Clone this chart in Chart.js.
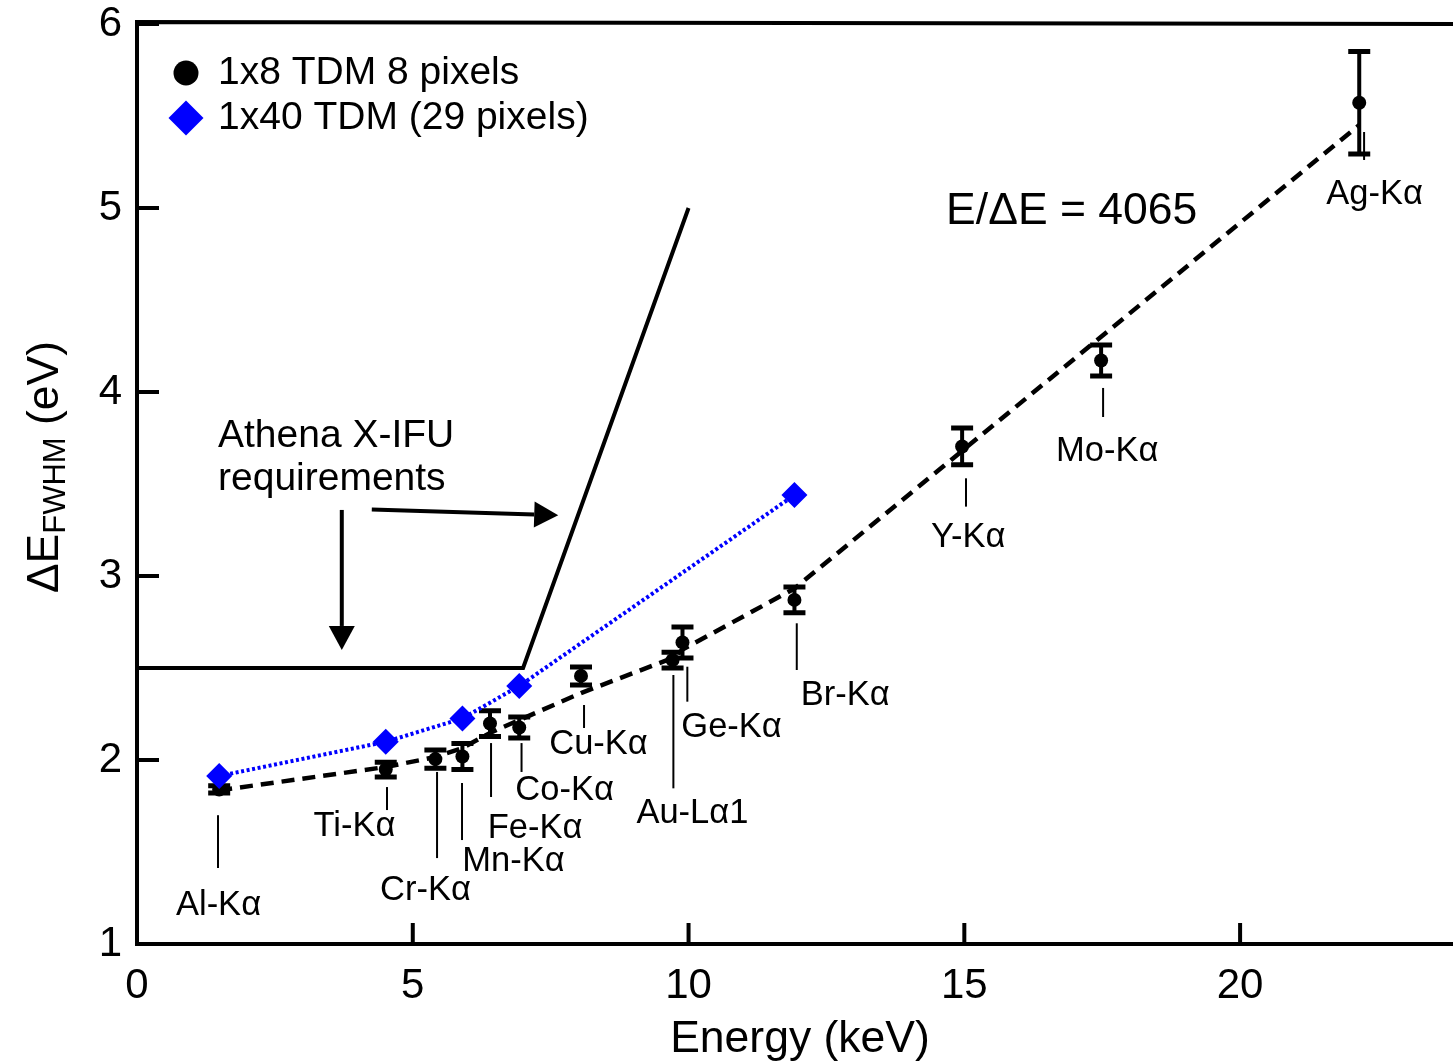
<!DOCTYPE html>
<html><head><meta charset="utf-8">
<script src="https://cdn.jsdelivr.net/npm/chart.js@4.4.0/dist/chart.umd.min.js"></script>
<style>html,body{margin:0;padding:0;background:#fff;overflow:hidden;} #wrap{width:1453px;height:1063px;position:relative;} canvas{display:block;}</style>
</head><body><div id="wrap"><canvas id="c" width="1453" height="1063"></canvas></div>
<script>
// ---- data ----
const energies   = [1.49, 4.51, 5.41, 5.90, 6.40, 6.93, 8.05, 9.71, 9.89, 11.92, 14.96, 17.48, 22.16];
const lineNames  = ['Al-Kα','Ti-Kα','Cr-Kα','Mn-Kα','Fe-Kα','Co-Kα','Cu-Kα','Au-Lα1','Ge-Kα','Br-Kα','Y-Kα','Mo-Kα','Ag-Kα'];
const fwhm1x8    = [1.840, 1.948, 2.005, 2.019, 2.198, 2.177, 2.457, 2.543, 2.639, 2.870, 3.704, 4.171, 5.572];
const err1x8     = [0.020, 0.040, 0.050, 0.070, 0.070, 0.057, 0.049, 0.043, 0.084, 0.070, 0.100, 0.084, 0.279];
const fitModel   = [1.835, 1.962, 2.016, 2.065, 2.147, 2.217, 2.364, 2.554, 2.600, 2.932, 3.680, 4.300, 5.451];
const energies1x40 = [1.49, 4.51, 5.90, 6.93, 11.92];
const fwhm1x40     = [1.913, 2.099, 2.226, 2.402, 3.440];
const reqEnergy  = [0, 7, 10];
const reqFwhm    = [2.5, 2.5, 5];
const xTicks = [0, 5, 10, 15, 20];
const yTicks = [1, 2, 3, 4, 5, 6];
const seriesNames = ['1x8 TDM 8 pixels', '1x40 TDM (29 pixels)'];
// label annotations in data units: [leaderX, leaderTop, leaderBottom, labelX, labelY]
const lineLabels = [
  [1.469, 1.700, 1.413, 1.478, 1.212],
  [4.533, 1.853, 1.728, 3.944, 1.641],
  [5.440, 1.935, 1.467, 5.231, 1.293],
  [5.893, 1.875, 1.565, 6.827, 1.446],
  [6.419, 2.092, 1.799, 7.217, 1.630],
  [6.972, 2.092, 1.935, 7.752, 1.837],
  [8.105, 2.299, 2.174, 8.368, 2.087],
  [9.725, 2.462, 1.846, 10.07, 1.707],
  [9.978, 2.507, 2.317, 10.78, 2.174],
  [11.962, 2.743, 2.489, 12.84, 2.353],
  [15.03, 3.531, 3.377, 15.07, 3.207],
  [17.516, 4.022, 3.864, 17.59, 3.674],
  [22.248, 5.413, 5.261, 22.44, 5.071]
];
// arrows: [x0, y0, x1(tip), y1(tip)]
const arrows = [[3.713, 3.359, 3.713, 2.598], [4.257, 3.362, 7.637, 3.330]];
const reqText = ['Athena X-IFU', 'requirements'];
const reqTextPos = [[1.469, 3.701], [1.469, 3.467]];
const resText = 'E/ΔE = 4065';
const resTextPos = [14.67, 4.913];

const FONT = '"Liberation Sans", Arial, Helvetica, sans-serif';
const xy = (xs, ys) => xs.map((v, i) => ({x: v, y: ys[i]}));

const annot = {
  id: 'annot',
  afterDatasetDraw(chart, args) {
    if (args.index !== 1) return;
    const {ctx, scales: {x, y}} = chart;
    ctx.save();
    ctx.strokeStyle = '#000';
    energies.forEach((e, i) => {
      const px = x.getPixelForValue(e);
      const t = y.getPixelForValue(fwhm1x8[i] + err1x8[i]);
      const b = y.getPixelForValue(fwhm1x8[i] - err1x8[i]);
      ctx.lineWidth = 4;
      ctx.beginPath(); ctx.moveTo(px, t); ctx.lineTo(px, b); ctx.stroke();
      ctx.lineWidth = 5;
      ctx.beginPath();
      ctx.moveTo(px - 11, t); ctx.lineTo(px + 11, t);
      ctx.moveTo(px - 11, b); ctx.lineTo(px + 11, b);
      ctx.stroke();
    });
    ctx.restore();
  },
  afterDraw(chart) {
    const {ctx, chartArea: ca, scales: {x, y}} = chart;
    ctx.save();
    ctx.strokeStyle = '#000'; ctx.fillStyle = '#000';
    // frame lines
    ctx.lineWidth = 4;
    ctx.beginPath(); ctx.moveTo(ca.left, ca.bottom + 2); ctx.lineTo(ca.left, ca.top - 2); ctx.lineTo(ca.right, ca.top);
    ctx.moveTo(ca.left - 2, ca.bottom); ctx.lineTo(ca.right, ca.bottom); ctx.stroke();
    // inward ticks
    xTicks.forEach(v => { const p = x.getPixelForValue(v); ctx.beginPath(); ctx.moveTo(p, ca.bottom); ctx.lineTo(p, ca.bottom - 21); ctx.stroke(); });
    yTicks.forEach(v => { const p = y.getPixelForValue(v); ctx.beginPath(); ctx.moveTo(ca.left, p); ctx.lineTo(ca.left + 22, p); ctx.stroke(); });
    // tick labels
    ctx.font = '42px ' + FONT; ctx.textBaseline = 'middle';
    ctx.textAlign = 'center';
    xTicks.forEach(v => ctx.fillText(String(v), x.getPixelForValue(v), ca.bottom + 42));
    ctx.textAlign = 'right';
    yTicks.forEach(v => ctx.fillText(String(v), ca.left - 15, y.getPixelForValue(v)));
    // leader lines + labels
    ctx.lineWidth = 2;
    ctx.font = '34.5px ' + FONT; ctx.textAlign = 'center'; ctx.textBaseline = 'middle';
    lineLabels.forEach((L, i) => {
      const lx = x.getPixelForValue(L[0]);
      ctx.beginPath(); ctx.moveTo(lx, y.getPixelForValue(L[1])); ctx.lineTo(lx, y.getPixelForValue(L[2])); ctx.stroke();
      ctx.fillText(lineNames[i], x.getPixelForValue(L[3]), y.getPixelForValue(L[4]));
    });
    // arrows
    ctx.lineWidth = 4;
    arrows.forEach(a => {
      const x0 = x.getPixelForValue(a[0]), y0 = y.getPixelForValue(a[1]);
      const x1 = x.getPixelForValue(a[2]), y1 = y.getPixelForValue(a[3]);
      const ang = Math.atan2(y1 - y0, x1 - x0), hl = 24, hw = 13;
      const bx = x1 - hl * Math.cos(ang), by = y1 - hl * Math.sin(ang);
      ctx.beginPath(); ctx.moveTo(x0, y0); ctx.lineTo(bx, by); ctx.stroke();
      ctx.beginPath(); ctx.moveTo(x1, y1);
      ctx.lineTo(bx + hw * Math.sin(ang), by - hw * Math.cos(ang));
      ctx.lineTo(bx - hw * Math.sin(ang), by + hw * Math.cos(ang));
      ctx.closePath(); ctx.fill();
    });
    // texts
    ctx.textAlign = 'left'; ctx.textBaseline = 'alphabetic';
    ctx.font = '39px ' + FONT;
    reqText.forEach((t, i) => ctx.fillText(t, x.getPixelForValue(reqTextPos[i][0]), y.getPixelForValue(reqTextPos[i][1])));
    ctx.font = '44.5px ' + FONT;
    ctx.fillText(resText, x.getPixelForValue(resTextPos[0]), y.getPixelForValue(resTextPos[1]));
    // legend
    ctx.beginPath(); ctx.arc(186, 73, 12.5, 0, Math.PI * 2); ctx.fill();
    ctx.fillStyle = '#0000ff';
    ctx.beginPath(); ctx.moveTo(186 - 17.5, 118); ctx.lineTo(186, 118 - 17.5); ctx.lineTo(186 + 17.5, 118); ctx.lineTo(186, 118 + 17.5); ctx.closePath(); ctx.fill();
    ctx.fillStyle = '#000';
    ctx.font = '39px ' + FONT; ctx.textBaseline = 'middle';
    ctx.fillText(seriesNames[0], 218, 73);
    ctx.fillText(seriesNames[1], 218, 118);
    // x title
    ctx.textAlign = 'center'; ctx.textBaseline = 'alphabetic';
    ctx.font = '44.5px ' + FONT;
    ctx.fillText('Energy (keV)', 800, 1052);
    // y title with subscript
    ctx.save();
    ctx.translate(58, 467);
    ctx.rotate(-Math.PI / 2);
    const mainF = '44.5px ' + FONT, subF = '31px ' + FONT;
    ctx.font = mainF; const w1 = ctx.measureText('ΔE').width, w3 = ctx.measureText(' (eV)').width;
    ctx.font = subF; const w2 = ctx.measureText('FWHM').width;
    let sx = -(w1 + w2 + w3) / 2;
    ctx.textAlign = 'left';
    ctx.font = mainF; ctx.fillText('ΔE', sx, 0); sx += w1;
    ctx.font = subF; ctx.fillText('FWHM', sx, 7); sx += w2;
    ctx.font = mainF; ctx.fillText(' (eV)', sx, 0);
    ctx.restore();
    ctx.restore();
  }
};

new Chart(document.getElementById('c'), {
  type: 'scatter',
  data: {
    datasets: [
      { label: seriesNames[1], data: xy(energies1x40, fwhm1x40), showLine: true,
        borderColor: '#0000ff', backgroundColor: '#0000ff', borderWidth: 4, borderDash: [3, 2.6],
        pointStyle: 'rectRot', pointRadius: 13, pointBorderWidth: 0, pointHoverRadius: 13 },
      { label: seriesNames[0], data: xy(energies, fwhm1x8), showLine: false,
        backgroundColor: '#000', borderColor: '#000', pointRadius: 7, pointBorderWidth: 0, pointHoverRadius: 7 },
      { label: 'fit', data: xy(energies, fitModel), showLine: true,
        borderColor: '#000', borderWidth: 4.5, borderDash: [13, 8], pointRadius: 0, pointHoverRadius: 0 },
      { label: 'requirement', data: xy(reqEnergy, reqFwhm), showLine: true,
        borderColor: '#000', borderWidth: 4, pointRadius: 0, pointHoverRadius: 0 }
    ]
  },
  options: {
    responsive: false, animation: false, devicePixelRatio: 1,
    layout: { autoPadding: false, padding: { top: 24, right: 0, left: 0, bottom: 0 } },
    plugins: { legend: { display: false }, tooltip: { enabled: false } },
    scales: {
      x: { type: 'linear', min: 0, max: 23.86,
        afterBuildTicks: s => { s.ticks = xTicks.map(v => ({value: v})); },
        afterFit: s => { s.height = 119; },
        grid: { display: false }, border: { display: false },
        ticks: { display: false } },
      y: { type: 'linear', min: 1, max: 6,
        afterBuildTicks: s => { s.ticks = yTicks.map(v => ({value: v})); },
        afterFit: s => { s.width = 137; },
        grid: { display: false }, border: { display: false },
        ticks: { display: false } }
    }
  },
  plugins: [annot]
});
</script></body></html>
